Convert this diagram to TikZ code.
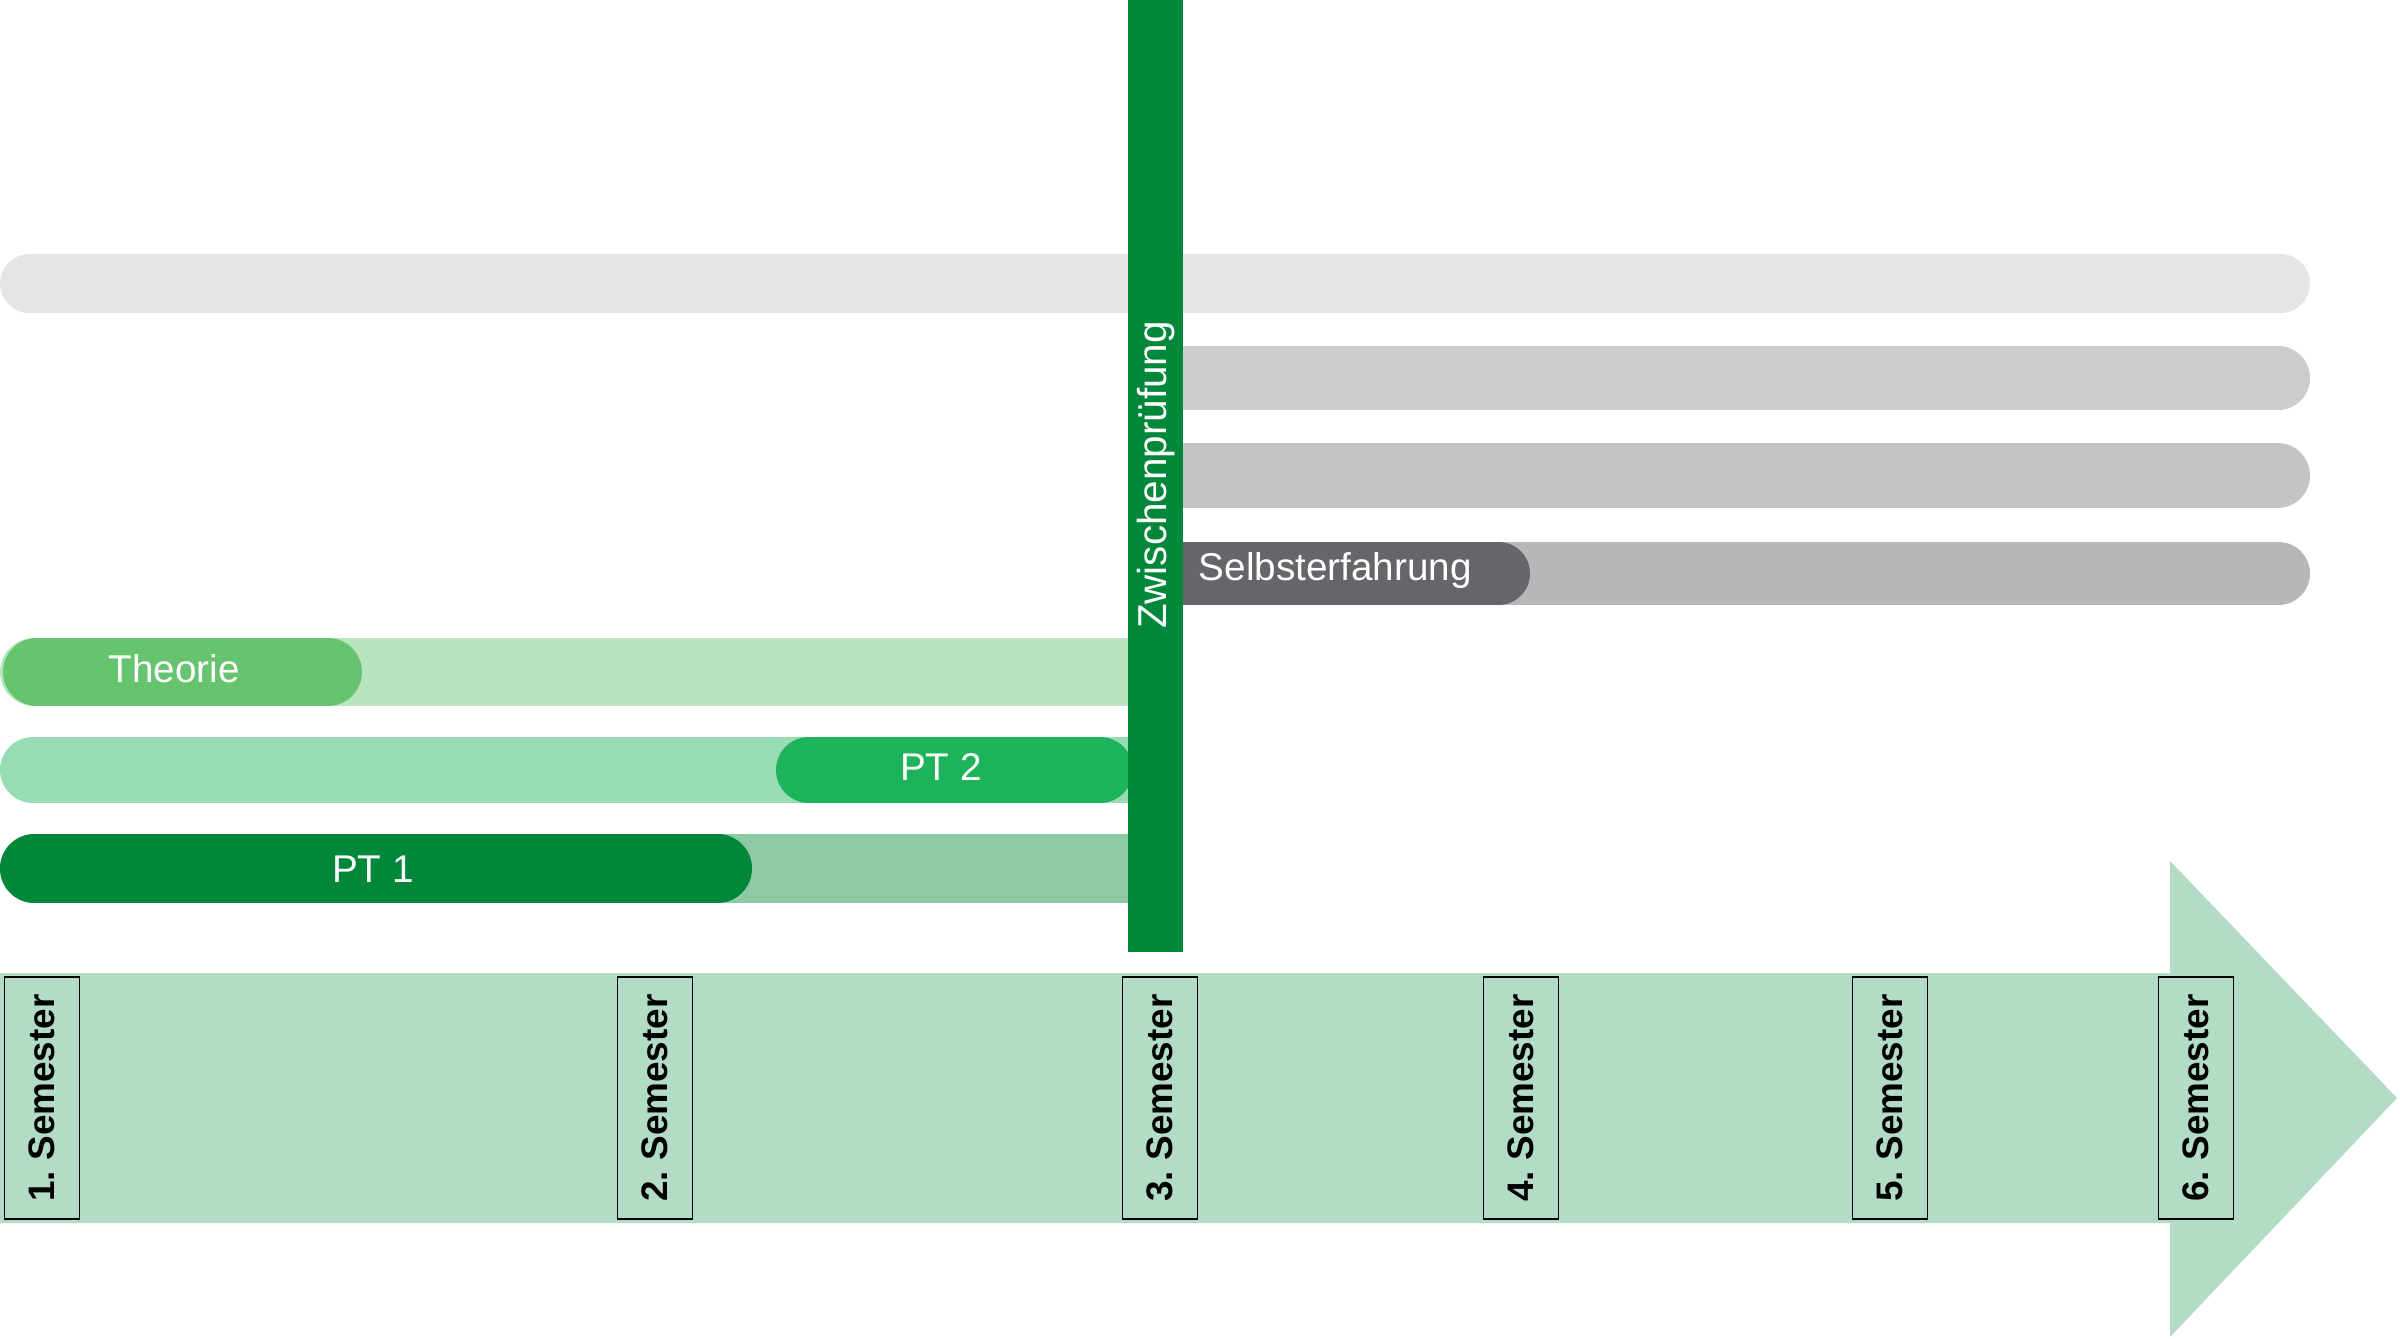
\documentclass[tikz,border=0pt]{standalone}
\usepackage{fontspec}
\setmainfont{Liberation Sans}

\definecolor{grayA}{HTML}{E5E5E5}
\definecolor{grayB}{HTML}{CBCCCE}
\definecolor{grayC}{HTML}{C3C4C6}
\definecolor{grayD}{HTML}{B7B7B8}
\definecolor{grayDark}{HTML}{65666A}
\definecolor{theoLight}{HTML}{B9E4BD}
\definecolor{theoPill}{HTML}{66C46F}
\definecolor{ptzLight}{HTML}{98DCB4}
\definecolor{ptzPill}{HTML}{1DB35B}
\definecolor{ptaLight}{HTML}{8DCAA4}
\definecolor{ptaPill}{HTML}{00873A}
\definecolor{arrowGreen}{HTML}{B3DCC6}

\begin{document}
\begin{tikzpicture}[x=0.1mm,y=-0.1mm,
    bar/.style={line width=#1,line cap=round},
    lbl/.style={text=white,inner sep=0pt,font=\fontsize{11}{13}\selectfont},
    sem/.style={draw=black,line width=0.5pt,rotate=90,inner sep=0pt,
      minimum width=24.2mm,minimum height=7.5mm,
      font=\bfseries\fontsize{10.5}{12}\selectfont}]
    \useasboundingbox (0,0) rectangle (2400,1339);
    %Selbsterfahrung
    \draw[bar=5.9mm,grayA] (29.5,283.5) -- (2280.5,283.5);
    \draw[bar=6.4mm,grayB] (1165,378) -- (2278,378);
    \draw[bar=6.5mm,grayC] (1165,475.5) -- (2277.5,475.5);
    \draw[bar=6.3mm,grayD] (1165,573.5) -- (2278.5,573.5);
    \draw[bar=6.3mm,grayDark] (1165,573.5) -- (1498.5,573.5);
    \node[lbl,anchor=west] (selbst) at (1198,571) {Selbsterfahrung};
    %Theorie, PT 2, PT 1
    \draw[bar=6.8mm,theoLight] (34,672) -- (1128,672);
    \draw[bar=6.8mm,theoPill] (37,672) -- (328,672);
    \draw[bar=6.6mm,ptzLight] (33,770) -- (1128,770);
    \draw[bar=6.6mm,ptzPill] (809,770) -- (1100,770);
    \draw[bar=6.9mm,ptaLight] (34.5,868.5) -- (1128,868.5);
    \draw[bar=6.9mm,ptaPill] (34.5,868.5) -- (717.5,868.5);
    \node[lbl] (theorie) at (174,669) {Theorie};
    \node[lbl] (ptzwei) at (941,767) {PT 2};
    \node[lbl] (ptein) at (373,869) {PT 1};
    %Zwischenpruefung
    \fill[ptaPill] (1128,0) rectangle (1183,952);
    \node[lbl,rotate=90,font=\fontsize{11.5}{13}\selectfont] (zwp) at (1156,475) {Zwischenprüfung};
    %Zeitachse
    \fill[arrowGreen] (0,973) -- (2170,973) -- (2170,861) -- (2397,1098)
      -- (2170,1337) -- (2170,1223) -- (0,1223) -- cycle;
    \foreach \x/\n in {42/1,655/2,1160/3,1521/4,1890/5,2196/6}
      \node[sem] (sem\n) at (\x,1098) {\n.~Semester};
\end{tikzpicture}
\end{document}
